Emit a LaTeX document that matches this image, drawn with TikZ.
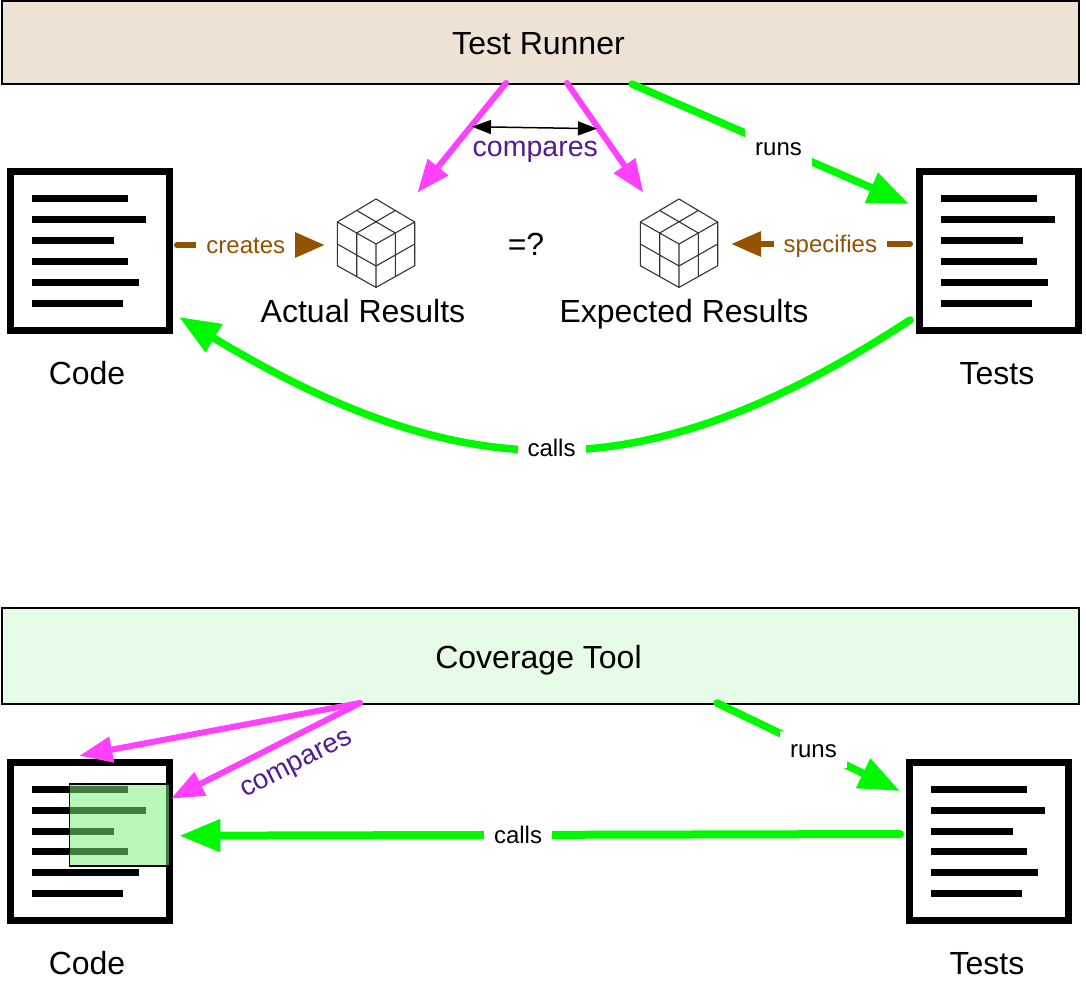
\documentclass[tikz,border=0pt]{standalone}
\usepackage{fontspec}
\setmainfont{Liberation Sans}
\usetikzlibrary{arrows.meta}
\definecolor{runner_fill}{HTML}{EEE2D4}
\definecolor{coverage_fill}{HTML}{E6FCE6}
\definecolor{arrow_green}{HTML}{00F900}
\definecolor{arrow_magenta}{HTML}{FF40FF}
\definecolor{arrow_brown}{HTML}{945200}
\definecolor{label_purple}{HTML}{531B93}
\definecolor{patch_green}{RGB}{119,240,119}
\begin{document}
\begin{tikzpicture}[
        x=1pt, y=-1pt,
        title_node/.style={draw, rectangle, line width=1.5pt, minimum width=1077pt, align=center, text height=29pt, text depth=5pt, font=\fontsize{32}{36}\selectfont},
        doc_node/.style={draw, rectangle, line width=7pt, minimum width=158.4pt, minimum height=158pt, fill=white},
        cube_node/.style={rectangle, minimum width=78pt, minimum height=89pt, inner sep=0pt},
        name_node/.style={anchor=base, font=\fontsize{32}{36}\selectfont},
        edge_label/.style={fill=white, inner xsep=10pt, inner ysep=6pt, text height=21pt, text depth=4pt, font=\fontsize{24}{28}\selectfont},
        compare_label/.style={text=label_purple, inner sep=0pt, text height=21pt, text depth=6pt, font=\fontsize{28.5}{32}\selectfont},
        green_arrow/.style={-{Triangle[length=41pt,width=31pt]}, line width=7.5pt, draw=arrow_green, line cap=round},
        magenta_arrow/.style={-{Triangle[length=33pt,width=25pt]}, line width=6pt, draw=arrow_magenta, line cap=round},
        brown_arrow/.style={-{Triangle[length=30pt,width=24pt]}, line width=6pt, draw=arrow_brown, line cap=round},
        span_arrow/.style={{Triangle[length=19pt,width=14pt]}-{Triangle[length=19pt,width=14pt]}, line width=1.5pt, draw=black},
        doc_lines/.pic={
            \foreach \lineend/\liney in {38.3/-52, 56.3/-31, 23.7/-10, 38.3/10.5, 48.7/31, 32.7/52}
                \draw [line width=7pt] (-57.7,\liney) -- (\lineend,\liney);
        },
        cube_lines/.pic={
            \draw [line width=1.1pt, draw=black!80, line join=round]
                (0,-45) -- (-38.7,-22) -- (0,0) -- (38.7,-22) -- cycle
                (-38.7,-22) -- (-38.7,21.7) -- (0,43.4) -- (38.7,21.7) -- (38.7,-22)
                (0,0) -- (0,43.4)
                (-19.3,-33.5) -- (19.3,-11) (19.3,-33.5) -- (-19.3,-11)
                (-19.3,-11) -- (-19.3,32.5) (-38.7,0) -- (0,22) -- (38.7,0) (19.3,-11) -- (19.3,32.5);
        }
    ]
        \useasboundingbox (0,0) rectangle (1086,992);

        % Nodes, upper diagram
        \node (runner) [title_node, minimum height=83pt, fill=runner_fill] at (540.5,42.5) {\hspace*{-4pt}Test Runner};
        \node (code_top) [doc_node] at (90,251) {};
        \node (tests_top) [doc_node] at (999,251) {};
        \node (actual_cube) [cube_node] at (376,244) {};
        \node (expected_cube) [cube_node] at (679,244) {};
        \pic at (code_top) {doc_lines};
        \pic at (tests_top) {doc_lines};
        \pic at (actual_cube) {cube_lines};
        \pic at (expected_cube) {cube_lines};
        \node (code_top_name) [name_node] at (87,384) {Code};
        \node (tests_top_name) [name_node] at (997,384) {Tests};
        \node (actual_name) [name_node] at (363,322) {Actual Results};
        \node (expected_name) [name_node] at (684,322) {Expected Results};
        \node (equals) [name_node] at (526,255.5) {=?};

        % Nodes, lower diagram
        \node (coverage) [title_node, minimum height=96pt, fill=coverage_fill] at (540.5,656) {\hspace*{-4pt}Coverage Tool};
        \node (code_low) [doc_node] at (90,841) {};
        \node (tests_low) [doc_node] at (989,841) {};
        \pic at (code_low) {doc_lines};
        \pic at (tests_low) {doc_lines};
        \node (covered_patch) [draw, line width=1.5pt, fill=patch_green, fill opacity=0.52, minimum width=99.6pt, minimum height=81.7pt] at (119.5,824.9) {};
        \node (code_low_name) [name_node] at (87,974) {Code};
        \node (tests_low_name) [name_node] at (987,974) {Tests};

        % Free ends
        \coordinate (pink_left_start) at (506,83);
        \coordinate (pink_left_tip) at (417.3,192.7);
        \coordinate (pink_right_start) at (567,83);
        \coordinate (pink_right_tip) at (643.3,192.7);
        \coordinate (span_left) at (472,126.7);
        \coordinate (span_right) at (597,128.7);
        \coordinate (runs_top_start) at (632,84);
        \coordinate (runs_top_tip) at (909,204);
        \coordinate (calls_top_start) at (910,320);
        \coordinate (calls_top_tip) at (179,317);
        \coordinate (creates_start) at (177,245);
        \coordinate (creates_tip) at (325,245);
        \coordinate (specifies_start) at (910,244);
        \coordinate (specifies_tip) at (731,244);
        \coordinate (pink_low_a_start) at (360,703);
        \coordinate (pink_low_a_tip) at (79.3,755.7);
        \coordinate (pink_low_b_start) at (360,703);
        \coordinate (pink_low_b_tip) at (171,798.7);
        \coordinate (runs_low_start) at (717,703);
        \coordinate (runs_low_tip) at (900,791);
        \coordinate (calls_low_start) at (900,834);
        \coordinate (calls_low_tip) at (179.3,835.7);

        % Arrows
        \draw [magenta_arrow] (pink_left_start) -- (pink_left_tip);
        \draw [magenta_arrow] (pink_right_start) -- (pink_right_tip);
        \draw [span_arrow] (span_left) -- (span_right);
        \node (compares_top) [compare_label] at (535.3,149.5) {compares};
        \draw [green_arrow] (runs_top_start) -- node[edge_label, pos=0.529] {runs} (runs_top_tip);
        \draw [green_arrow] (calls_top_start) .. controls (648,491) and (467,491) .. node[edge_label, pos=0.504] {calls} (calls_top_tip);
        \draw [brown_arrow] (creates_start) -- node[edge_label, text=arrow_brown, pos=0.465] {creates} (creates_tip);
        \draw [brown_arrow] (specifies_start) -- node[edge_label, text=arrow_brown, pos=0.445] {specifies} (specifies_tip);
        \draw [magenta_arrow] (pink_low_a_start) -- (pink_low_a_tip);
        \draw [magenta_arrow] (pink_low_b_start) -- (pink_low_b_tip);
        \node (compares_low) [compare_label, rotate=27, scale=0.97] at (296,763.5) {compares};
        \draw [green_arrow] (runs_low_start) -- node[edge_label, pos=0.527] {runs} (runs_low_tip);
        \draw [green_arrow, line width=8pt] (calls_low_start) -- node[edge_label, pos=0.53] {calls} (calls_low_tip);
    \end{tikzpicture}
\end{document}
